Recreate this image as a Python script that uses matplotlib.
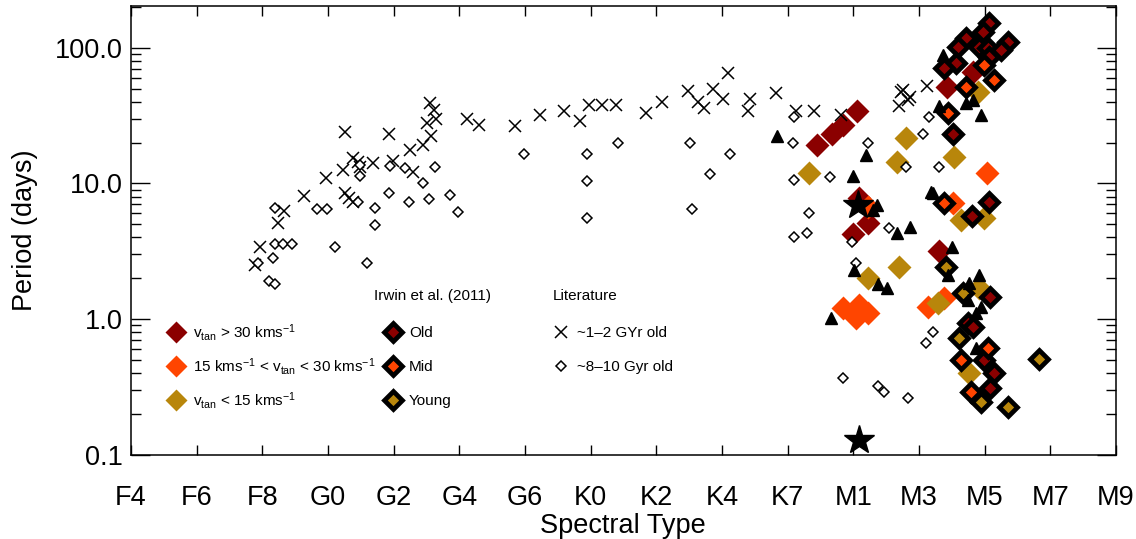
import numpy as np
import matplotlib
matplotlib.use("Agg")
import matplotlib.pyplot as plt
from matplotlib.lines import Line2D
from matplotlib.ticker import FixedLocator, FuncFormatter, LogLocator, NullFormatter

plt.rcParams['font.family'] = ['Liberation Sans', 'DejaVu Sans']
plt.rcParams['mathtext.fontset'] = 'custom'
plt.rcParams['mathtext.rm'] = 'Liberation Sans'
plt.rcParams['mathtext.it'] = 'Liberation Sans:italic'

# spectral type axis: one unit per labelled tick
spt_labels = ['F4', 'F6', 'F8', 'G0', 'G2', 'G4', 'G6', 'K0',
              'K2', 'K4', 'K7', 'M1', 'M3', 'M5', 'M7', 'M9']

# literature, ~1-2 Gyr old (crosses)
lit12_spt = [1.89, 1.97, 2.24, 2.33, 2.64, 2.97, 3.23, 3.26, 3.32, 3.38,
             3.26, 3.38, 3.45, 3.48, 3.69, 3.93, 3.99, 4.25, 4.30, 4.44,
             4.57, 4.51, 4.65, 4.62, 4.56, 5.12, 5.30, 5.85, 6.23, 6.59,
             6.84, 6.97, 7.18, 7.39, 7.84, 8.09, 8.48, 8.63, 8.72, 8.87,
             9.01, 9.09, 9.42, 9.39, 9.82, 10.12, 10.40, 10.81, 11.72, 11.87,
             11.69, 12.12, 11.83, 11.75]
lit12_per = [2.5, 3.4, 5.1, 6.3, 8.1, 11.0, 12.6, 8.5, 7.8, 7.3,
             24, 15.4, 14.4, 13.2, 14.1, 23, 14.6, 17.6, 12.1, 19.2,
             22.4, 28, 30, 35, 39, 30, 27, 26.5, 32, 34,
             29, 38, 38, 38, 33, 40, 48, 40, 36, 50,
             42, 65, 42, 34, 46, 34, 34, 32, 47, 43,
             37, 52, 41, 49]

# literature, ~8-10 Gyr old (open diamonds)
lit810_spt = [1.94, 2.10, 2.20, 2.16, 2.20, 2.32, 2.45, 2.20, 2.84, 2.99,
              3.11, 3.45, 3.49, 3.49, 3.60, 3.72, 3.72, 3.93, 3.95, 4.18,
              4.24, 4.44, 4.54, 4.63, 4.86, 4.98, 5.98, 6.94, 6.94, 6.94,
              7.41, 8.51, 8.55, 8.81, 9.12, 10.09, 10.08, 10.09, 10.32, 10.30,
              10.09, 10.64, 10.98, 11.04, 11.23, 11.55, 11.80, 12.15, 12.06, 12.30,
              12.21, 12.10, 11.83, 10.84, 11.37, 11.46]
lit810_per = [2.6, 1.9, 1.8, 2.8, 3.6, 3.6, 3.6, 6.6, 6.5, 6.5,
              3.4, 7.3, 11.3, 13.7, 2.6, 6.6, 4.9, 8.5, 13.4, 13.0,
              7.3, 10.1, 7.7, 13.2, 8.2, 6.2, 16.5, 16.5, 10.4, 5.6,
              19.9, 19.9, 6.5, 11.7, 16.5, 31, 19.9, 10.6, 6.05, 4.3,
              4.0, 11.1, 3.7, 2.6, 19.9, 4.7, 13.2, 31, 23, 13.2,
              0.80, 0.67, 0.26, 0.37, 0.32, 0.29]

# other M dwarfs (filled triangles)
tri_spt = [9.83, 11.19, 10.99, 11.36, 11.30, 11.87, 11.66, 11.01, 11.37, 11.51,
           12.21, 12.50, 10.66, 12.36, 12.71, 12.82, 12.94, 12.30, 12.18, 12.91,
           12.44, 12.76, 12.74, 12.94, 12.87, 12.87]
tri_per = [22.4, 16.2, 11.3, 6.9, 6.4, 4.8, 4.3, 2.3, 1.8, 1.7,
           8.5, 3.4, 1.02, 88, 39, 41, 32, 37, 8.6, 2.1,
           2.1, 1.85, 1.38, 1.23, 1.11, 0.61]

# stars
star_spt = [11.07, 11.08]
star_per = [6.9, 0.128]

# v_tan groups (large filled diamonds)
fast_spt = [10.44, 10.67, 10.85, 11.05, 11.08, 11.22, 10.99, 12.30, 12.82, 12.42]
fast_per = [19.2, 23, 27, 34, 7.8, 5.1, 4.2, 3.2, 66, 51]
mid_spt = [11.22, 12.52, 10.84, 11.08, 11.04, 11.23, 12.13, 12.38, 13.03]
mid_per = [6.7, 7.2, 1.21, 1.27, 1.02, 1.11, 1.23, 1.43, 11.9]
slow_spt = [10.32, 11.80, 11.66, 11.69, 11.23, 12.53, 12.90, 12.99, 12.64, 12.91,
            12.29, 12.76]
slow_per = [11.9, 21.6, 14.4, 2.4, 2.0, 15.7, 47, 5.6, 5.4, 1.7,
            1.31, 0.40]

# Irwin et al. (2011) (thick black outline)
irw_old_spt = [13.06, 12.97, 12.71, 13.35, 12.59, 12.91, 13.05, 13.25, 12.56, 13.06,
               12.38, 12.52, 13.06, 12.80, 13.08, 12.74, 12.82, 12.99, 13.14, 13.08]
irw_old_per = [152, 131, 118, 110, 101, 101, 99.5, 96, 77, 85,
               71, 23, 7.3, 5.75, 1.46, 0.94, 0.87, 0.50, 0.40, 0.31]
irw_mid_spt = [12.44, 13.14, 12.71, 12.99, 12.38, 13.05, 12.64, 12.79]
irw_mid_per = [33, 58, 51, 75, 7.2, 0.61, 0.50, 0.29]
irw_yng_spt = [12.41, 12.67, 12.61, 12.94, 13.35, 13.83]
irw_yng_per = [2.4, 1.56, 0.73, 0.245, 0.225, 0.51]

c_fast = '#8b0000'
c_mid = '#ff4500'
c_slow = '#b8860b'

fig = plt.figure(figsize=(11.36, 5.39), dpi=100)
ax = fig.add_axes([0.1153, 0.1564, 0.8671, 0.8319])

big = dict(ls='none', marker='D', ms=12, mec='none')
ax.plot(fast_spt, fast_per, color=c_fast, **big)
ax.plot(mid_spt, mid_per, color=c_mid, **big)
ax.plot(slow_spt, slow_per, color=c_slow, **big)

ax.plot(lit12_spt, lit12_per, ls='none', marker='x', ms=8, mew=1.1, color='black')
ax.plot(lit810_spt, lit810_per, ls='none', marker='D', ms=5, mew=1.1,
        mfc='white', mec='black')

irw = dict(ls='none', marker='D', ms=8.8, mec='black', mew=3.4)
ax.plot(irw_old_spt, irw_old_per, mfc=c_fast, **irw)
ax.plot(irw_mid_spt, irw_mid_per, mfc=c_mid, **irw)
ax.plot(irw_yng_spt, irw_yng_per, mfc=c_slow, **irw)

ax.plot(tri_spt, tri_per, ls='none', marker='^', ms=8, color='black')
ax.plot(star_spt, star_per, ls='none', marker='*', ms=22, color='black')

ax.set_yscale('log')
ax.set_xlim(0, 15)
ax.set_ylim(0.1, 202)

ax.xaxis.set_major_locator(FixedLocator(range(len(spt_labels))))
ax.set_xticklabels(spt_labels)
ax.yaxis.set_major_locator(FixedLocator([0.1, 1, 10, 100]))
ax.yaxis.set_major_formatter(FuncFormatter(lambda v, p: '%.1f' % v))
ax.yaxis.set_minor_locator(LogLocator(base=10, subs=range(2, 10)))
ax.yaxis.set_minor_formatter(NullFormatter())

ax.tick_params(axis='x', which='major', direction='in', length=7, width=1,
               top=True, bottom=True, labelsize=19.5, pad=22)
ax.tick_params(axis='y', which='major', direction='in', length=14, width=1,
               left=True, right=True, labelsize=19.5, pad=6)
ax.tick_params(axis='y', which='minor', direction='in', length=7, width=1,
               left=True, right=True)
for s in ax.spines.values():
    s.set_linewidth(1.1)

fig.text(0.5484, 1 - 526 / 539, 'Spectral Type', ha='center', va='center', fontsize=19.5)
fig.text(25 / 1136, 0.5724, 'Period (days)', ha='center', va='center',
         rotation=90, fontsize=19.5)

# legends
lfs = 11
lg_kw = dict(frameon=False, fontsize=lfs, handlelength=1.0, borderpad=0,
             loc='upper left', borderaxespad=0)
vt = [Line2D([], [], ls='none', marker='D', ms=11.5, mec='none', color=c)
      for c in (c_fast, c_mid, c_slow)]
vt_lab = [r'v$_{\rm tan}$ > 30 kms$^{-1}$',
          r'15 kms$^{-1}$ < v$_{\rm tan}$ < 30 kms$^{-1}$',
          r'v$_{\rm tan}$ < 15 kms$^{-1}$']
leg1 = ax.legend(vt, vt_lab, handletextpad=0.6, labelspacing=0.85,
                 bbox_to_anchor=(0.038, 0.296), **lg_kw)
ax.add_artist(leg1)

iw = [Line2D([], [], ls='none', marker='D', ms=8.8, mec='black', mew=3.4, mfc=c)
      for c in (c_fast, c_mid, c_slow)]
leg2 = ax.legend(iw, ['Old', 'Mid', 'Young'], handletextpad=0.55, labelspacing=1.32,
                 bbox_to_anchor=(0.258, 0.287), **lg_kw)
ax.add_artist(leg2)

lt = [Line2D([], [], ls='none', marker='x', ms=8.5, mew=1.1, color='black'),
      Line2D([], [], ls='none', marker='D', ms=5, mew=1.1, mfc='white', mec='black')]
ax.legend(lt, ['~1\u20132 GYr old', '~8\u201310 Gyr old'], handletextpad=0.55,
          labelspacing=1.32, bbox_to_anchor=(0.4288, 0.287), **lg_kw)

ax.text(0.3065, 1 - (296 - 6.3) / 448.4, 'Irwin et al. (2011)', transform=ax.transAxes,
        ha='center', va='center', fontsize=lfs)
ax.text(0.4285, 1 - (296 - 6.3) / 448.4, 'Literature', transform=ax.transAxes,
        ha='left', va='center', fontsize=lfs)

fig.savefig('out.png', dpi=100)
